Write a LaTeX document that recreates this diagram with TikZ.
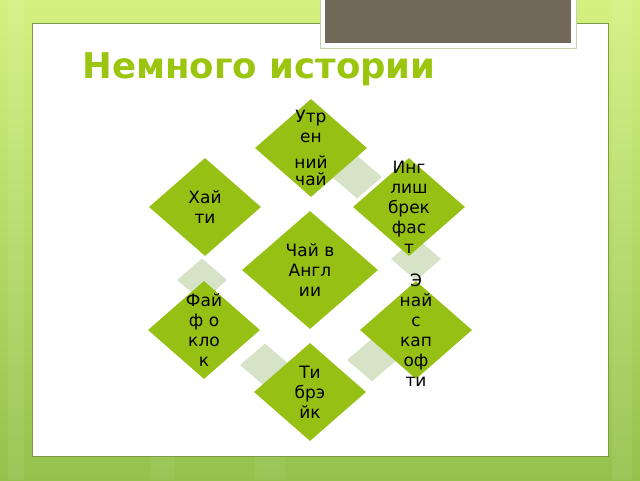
\documentclass[tikz,border=0pt]{standalone}
\usepackage{fontspec}
\setmainfont{DejaVu Sans}
\usetikzlibrary{shapes.geometric}
\definecolor{leaf}{RGB}{150,193,20}
\definecolor{sage}{RGB}{214,227,198}
\definecolor{titlegreen}{RGB}{155,197,14}
\definecolor{bark}{RGB}{115,105,90}
\definecolor{bgtop}{RGB}{212,241,128}
\definecolor{bgbottom}{RGB}{148,194,76}
\definecolor{rim}{RGB}{125,155,70}
\begin{document}
\begin{tikzpicture}[x=1pt,y=1pt,yscale=-1,xscale=1,
  leafdia/.style={diamond,fill=leaf,inner sep=0pt,minimum width=112,minimum height=98},
  hubdia/.style={leafdia,minimum width=136,minimum height=118},
  gapdia/.style={diamond,fill=sage,inner sep=0pt,minimum width=50,minimum height=43},
  leaftext/.style={align=center,inner sep=0pt,font=\fontsize{17}{20}\selectfont}]
\useasboundingbox (0,0) rectangle (640,480);
%Background
\shade[top color=bgtop,bottom color=bgbottom] (0,0) rectangle (640,480);
\fill[white,opacity=0.08] (8,0) rectangle (24,480);
\fill[white,opacity=0.08] (612,0) rectangle (632,480);
\fill[white,opacity=0.06] (150,456) rectangle (175,480);
\fill[white,opacity=0.06] (255,456) rectangle (285,480);
\draw[fill=white,draw=rim] (32,23) rectangle (608,456);
\draw[fill=white,draw=rim!45] (320,-2) rectangle (576,48);
\fill[bark] (325,-2) rectangle (571,43);
\draw (79,78) node [anchor=base west,text=titlegreen,font=\bfseries\fontsize{35.5}{40}\selectfont] (title) {Немного истории};
%Gaps
\node[gapdia] (gapa) at (357,177) {};
\node[gapdia] (gapb) at (416,259) {};
\node[gapdia] (gapc) at (202,280) {};
\node[gapdia] (gapd) at (265,365) {};
\node[gapdia] (gape) at (372,360) {};
%Diamonds
\node[leafdia] (morning) at (311,148) {};
\node[leafdia] (high) at (205,207) {};
\node[leafdia] (breakfast) at (409,207) {};
\node[hubdia] (england) at (310,270) {};
\node[leafdia] (fiveclock) at (204,330) {};
\node[leafdia] (nicecup) at (416,330) {};
\node[leafdia] (break) at (310,392) {};
%Text
\node[leaftext] (tmorning) at (morning) {Утр\\ен\\[6pt]ний\\[-3pt]чай};
\node[leaftext] (thigh) at (high) {Хай\\ти};
\node[leaftext] (tbreakfast) at (breakfast) {Инг\\лиш\\брек\\фас\\т};
\node[leaftext] (tengland) at (england) {Чай в\\Англ\\ии};
\node[leaftext] (tfiveclock) at (fiveclock) {Фай\\ф о\\кло\\к};
\node[leaftext] (tnicecup) at (nicecup) {Э\\най\\с\\кап\\оф\\ти};
\node[leaftext] (tbreak) at (break) {Ти\\брэ\\йк};
\end{tikzpicture}
\end{document}
